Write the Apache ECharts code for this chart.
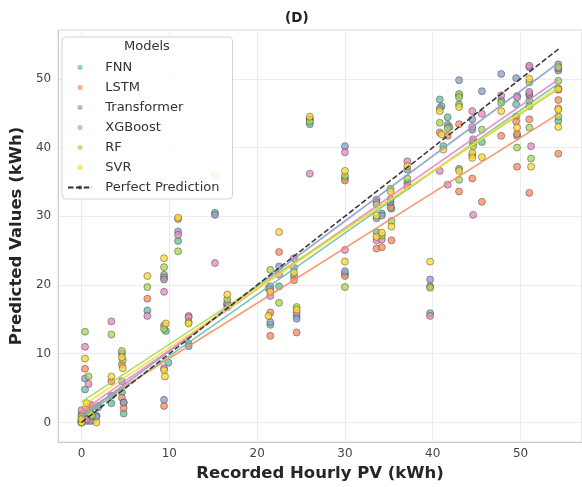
<!DOCTYPE html>
<html>
<head>
    <meta charset="utf-8">
    <title>(D)</title>
    <script src="https://cdn.jsdelivr.net/npm/echarts@6/dist/echarts.min.js"></script>
    <style>
        html, body { margin: 0; padding: 0; background: #fff; }
        #chart { width: 582px; height: 487px; }
    </style>
</head>
<body>
<div id="chart"></div>
<script type="text/javascript">
    // model names and colours (seaborn Set2)
    var models = ['FNN', 'LSTM', 'Transformer', 'XGBoost', 'RF', 'SVR'];
    var colors = ['#66c2a5', '#fc8d62', '#8da0cb', '#e78ac3', '#a6d854', '#ffd92f'];

    // [recorded, predicted] pairs
    var fnnPts = [[0,0],[0,0.4],[0.3,0.8],[0.4,4.8],[0.6,0.2],[1.0,1.6],[1.7,1.0],[1.9,2.4],
        [3.4,2.8],[4.6,4.4],[4.8,1.3],[7.5,16.3],[9.4,21.5],[9.6,13.3],[9.9,8.7],
        [11.0,26.4],[12.2,11.5],[15.2,30.5],[16.6,17.1],[21.5,14.2],[21.3,19.5],[22.5,19.8],
        [24.2,21.3],[24.5,15.5],[26.0,43.4],[30.0,21.6],[30.0,35.5],[33.6,27.7],[34.2,30.4],
        [35.2,31.7],[35.3,31.1],[37.1,34.9],[39.7,15.9],[40.8,47.0],[41.0,46.0],[41.2,40.2],
        [41.7,44.4],[43.0,46.3],[43.0,36.9],[45.6,40.8],[47.8,46.9],[49.5,46.3],[49.6,41.7],
        [51.0,46.8],[54.3,43.9],[54.3,48.6]];
    var lstmPts = [[0,0.2],[0,1.2],[0.4,7.8],[0.5,0.5],[0.9,2.0],[1.3,0.3],[3.4,6.0],[4.6,8.4],
        [4.6,3.6],[4.8,2.9],[4.8,2.1],[7.5,18.0],[9.4,21.1],[9.4,2.4],[11.0,29.6],[12.2,15.5],
        [16.6,16.8],[21.5,16.0],[21.5,12.6],[22.5,24.8],[24.2,20.7],[24.5,13.1],[26.0,44.2],
        [30.0,35.2],[30.0,21.3],[33.6,25.3],[34.2,25.5],[35.2,31.3],[35.3,26.5],[37.1,34.4],
        [39.7,19.8],[40.8,42.2],[41.7,41.7],[43.0,43.4],[43.0,33.6],[44.5,38.9],[44.5,35.5],
        [45.6,32.1],[47.8,41.7],[49.5,44.5],[49.5,43.8],[49.6,42.0],[49.6,37.2],[51.0,47.6],
        [51.0,44.1],[51.0,33.4],[54.3,48.4],[54.3,46.9],[54.3,39.1]];
    var transformerPts = [[0,0],[0,0.6],[0.4,6.4],[0.5,1.5],[1.0,0.2],[1.7,0.8],[1.9,2.2],
        [3.4,3.9],[4.6,6.0],[4.8,2.9],[9.4,20.8],[9.4,3.3],[11.0,27.8],[12.2,11.1],[15.2,30.2],
        [16.6,17.2],[21.5,19.8],[21.5,14.6],[22.5,22.7],[24.2,22.5],[24.5,15.1],[26.0,44.0],
        [30.0,40.2],[30.0,22.0],[33.6,32.4],[33.6,29.7],[34.2,30.1],[35.2,32.1],[37.1,36.8],
        [39.7,20.8],[40.8,45.7],[41.7,43.3],[41.9,43.0],[43.0,49.8],[44.5,44.1],[44.5,42.6],
        [44.6,40.9],[45.6,48.2],[47.8,50.7],[49.5,50.1],[49.6,47.5],[51.0,51.7],[51.0,47.8],
        [54.3,52.1],[54.3,51.2]];
    var xgboostPts = [[0,0.1],[0,1.8],[0.4,11.0],[0.8,5.6],[0.6,0.4],[1.0,2.6],[3.4,14.7],
        [4.6,10.0],[7.5,15.5],[9.4,19.0],[9.4,14.1],[9.4,7.9],[11.0,27.3],[12.2,15.3],[15.2,23.2],
        [16.6,17.4],[21.5,19.3],[21.5,18.4],[22.5,21.5],[24.2,23.9],[24.5,16.0],[26.0,36.2],
        [30.0,39.3],[30.0,25.1],[33.6,32.0],[33.6,26.5],[34.2,26.6],[35.2,32.5],[37.1,38.0],
        [39.7,15.5],[40.8,36.6],[41.7,34.6],[43.0,47.6],[44.5,45.3],[44.5,43.0],[44.6,41.2],
        [44.6,30.2],[45.6,44.9],[47.8,47.6],[49.6,47.3],[51.0,51.9],[51.0,48.1],[51.2,40.2],
        [54.3,51.5]];
    var rfPts = [[0,0],[0,0.9],[0.4,13.2],[0.8,6.7],[0.5,2.2],[1.2,1.0],[3.4,12.8],[4.6,10.4],
        [4.7,9.1],[7.5,19.7],[9.4,22.6],[9.4,13.6],[11.0,24.9],[12.2,14.6],[16.6,17.9],
        [21.5,22.2],[22.5,17.4],[24.5,16.8],[26.0,43.8],[30.0,35.9],[30.0,19.7],[33.6,31.7],
        [34.2,27.2],[35.2,34.0],[35.3,29.3],[37.1,35.5],[39.7,19.6],[40.8,43.6],[41.7,42.8],
        [43.0,47.8],[43.0,47.3],[43.0,35.3],[44.6,40.6],[44.6,40.2],[45.6,42.6],[47.8,46.5],
        [49.6,40.0],[51.0,49.5],[51.0,46.0],[51.0,42.9],[51.2,38.4],[54.3,51.7],[54.3,49.7],
        [54.3,44.5]];
    var svrPts = [[0,0],[0,0.5],[0.4,9.3],[0.6,2.8],[0.9,1.4],[1.7,0],[3.4,6.7],[4.6,9.5],
        [4.7,7.9],[7.5,21.3],[9.4,23.9],[9.6,14.4],[9.4,7.6],[9.5,6.7],[11.0,29.8],[12.2,14.4],
        [15.2,36.0],[16.6,18.6],[21.5,19.0],[21.3,15.5],[22.5,27.7],[24.2,21.8],[24.5,16.4],
        [26.0,44.5],[30.0,36.6],[30.0,23.4],[33.6,30.1],[33.6,27.0],[34.2,27.6],[35.2,33.6],
        [35.3,28.5],[37.1,37.3],[39.7,23.4],[40.8,45.3],[41.0,41.9],[41.2,39.7],[43.0,45.9],
        [43.0,36.6],[44.5,39.2],[44.5,38.5],[45.6,38.6],[47.8,45.3],[49.6,42.9],[51.0,50.0],
        [51.2,37.2],[54.3,48.5],[54.3,45.7],[54.3,45.5],[54.3,43.0]];
    var points = [fnnPts, lstmPts, transformerPts, xgboostPts, rfPts, svrPts];

    // fitted lines: value at x = fitX[0] and x = fitX[1]
    var fitX = [0, 54.3];
    var fitStart = [0.7, 1.3, 0.9, 1.6, 3.0, 2.3];
    var fitEnd = [49.3, 44.9, 52.3, 49.9, 48.5, 48.8];
    var perfectX = [0, 54.4];

    var xTicks = [0, 10, 20, 30, 40, 50];
    var yTicks = [0, 10, 20, 30, 40, 50];

    var font = 'DejaVu Sans';
    var myChart = echarts.init(document.getElementById('chart'), null, {renderer: 'canvas'});

    var series = [];
    for (var i = 0; i < models.length; i++) {
        series.push({
            name: models[i],
            type: 'scatter',
            data: points[i],
            symbolSize: 7,
            itemStyle: {color: colors[i], opacity: 0.78, borderColor: '#3a3a3a', borderWidth: 0.6},
            z: 2
        });
    }
    for (var j = 0; j < models.length; j++) {
        series.push({
            name: models[j] + ' fit',
            type: 'line',
            data: [[fitX[0], fitStart[j]], [fitX[1], fitEnd[j]]],
            symbol: 'none',
            silent: true,
            lineStyle: {color: colors[j], width: 1.6, opacity: 0.9},
            z: 3
        });
    }
    series.push({
        name: 'Perfect Prediction',
        type: 'line',
        data: [[perfectX[0], perfectX[0]], [perfectX[1], perfectX[1]]],
        symbol: 'none',
        itemStyle: {color: '#333'},
        lineStyle: {color: '#333', width: 1.5, type: [5.5, 2.4]},
        z: 4
    });

    function tickLabel(list) {
        return function (v) {
            return list.indexOf(Math.round(v * 1000) / 1000) >= 0 ? String(v) : '';
        };
    }

    var option = {
        animation: false,
        backgroundColor: '#fff',
        graphic: [{
            type: 'text',
            left: 124,
            top: 40,
            z: 100,
            style: {text: 'Models', font: '13px "DejaVu Sans"', fill: '#333'}
        }, {
            type: 'text',
            left: 285,
            top: 11,
            z: 100,
            style: {text: '(D)', font: 'bold 13.5px "DejaVu Sans"', fill: '#222'}
        }],
        legend: {
            data: models.concat(['Perfect Prediction']),
            orient: 'vertical',
            left: 62,
            top: 37,
            padding: [24, 13, 5, 5],
            itemWidth: 24,
            itemHeight: 5,
            itemGap: 7,
            itemStyle: {borderWidth: 0, opacity: 0.75},
            backgroundColor: 'rgba(255,255,255,0.85)',
            borderColor: '#d4d4d4',
            borderWidth: 1,
            borderRadius: 4,
            formatter: '  {name}',
            textStyle: {fontFamily: font, fontSize: 13, color: '#333'}
        },
        grid: {
            left: 56,
            top: 30,
            right: -3,
            bottom: 37,
            show: true,
            borderColor: '#d8d8d8',
            borderWidth: 1,
            containLabel: false
        },
        xAxis: {
            type: 'value',
            min: -2.66,
            max: 57,
            name: 'Recorded Hourly PV (kWh)',
            nameLocation: 'middle',
            nameGap: 18,
            nameTextStyle: {fontFamily: font, fontSize: 16.5, fontWeight: 'bold', color: '#262626'},
            axisLine: {onZero: false, lineStyle: {color: '#cccccc'}},
            axisTick: {show: false},
            axisLabel: {fontFamily: font, fontSize: 12, color: '#444', margin: 6,
                formatter: tickLabel(xTicks), showMinLabel: false, showMaxLabel: false},
            splitLine: {lineStyle: {color: '#ececec', width: 1}}
        },
        yAxis: {
            type: 'value',
            min: -2.86,
            max: 57.1,
            name: 'Predicted Values (kWh)',
            nameLocation: 'middle',
            nameGap: 26,
            nameTextStyle: {fontFamily: font, fontSize: 16.5, fontWeight: 'bold', color: '#262626'},
            axisLine: {show: true, onZero: false, lineStyle: {color: '#cccccc'}},
            axisTick: {show: false},
            axisLabel: {fontFamily: font, fontSize: 12, color: '#444', margin: 7,
                formatter: tickLabel(yTicks), showMinLabel: false, showMaxLabel: false},
            splitLine: {lineStyle: {color: '#ececec', width: 1}}
        },
        series: series
    };

    myChart.setOption(option);
</script>
</body>
</html>
